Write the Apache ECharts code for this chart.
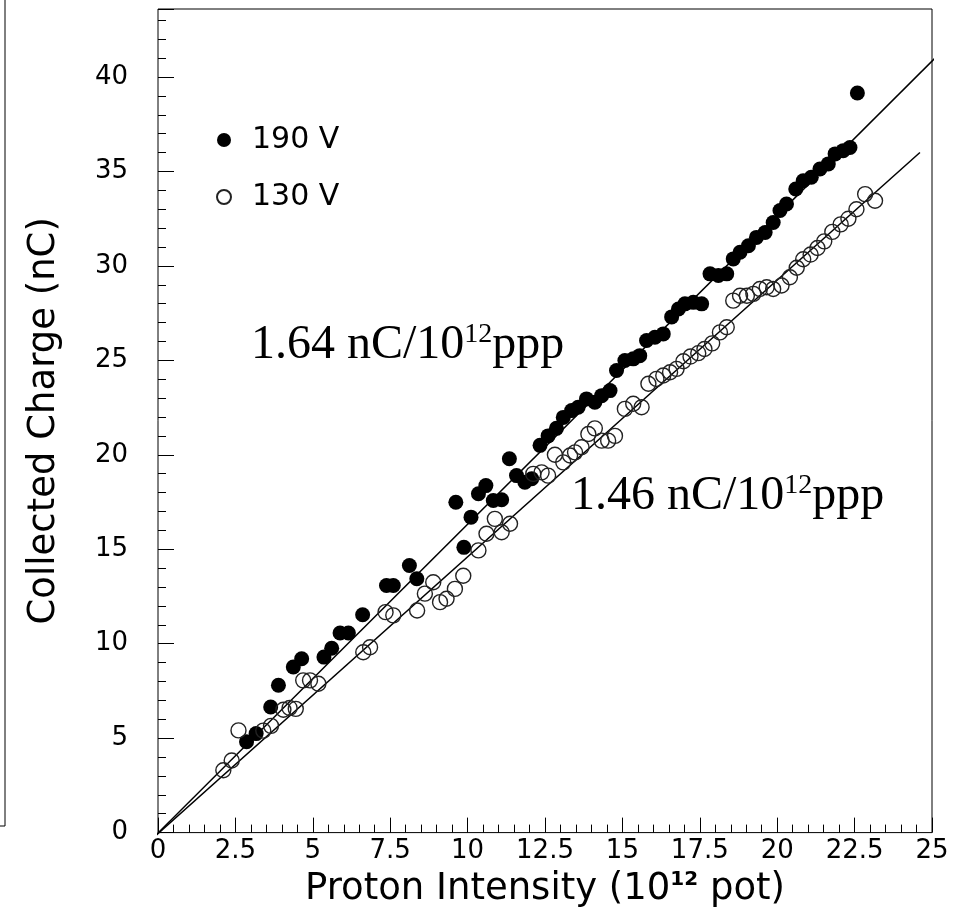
<!DOCTYPE html>
<html>
<head>
<meta charset="utf-8">
<script src="https://cdn.jsdelivr.net/npm/echarts@6/dist/echarts.min.js"></script>
<style>
  html, body { margin: 0; padding: 0; background: #fff; }
  #chart { width: 965px; height: 913px; }
</style>
</head>
<body>
<div id="chart"></div>
<script>
// collected charge vs proton intensity, two bias voltages
var points190 = [
  [2.86, 4.81], [3.17, 5.24], [3.64, 6.65], [3.89, 7.8], [4.37, 8.77], [4.64, 9.2],
  [5.36, 9.29], [5.61, 9.76], [5.88, 10.57], [6.15, 10.57], [6.61, 11.53], [7.38, 13.08],
  [7.6, 13.08], [8.12, 14.14], [8.36, 13.44], [9.62, 17.49], [9.88, 15.1], [10.11, 16.7],
  [10.35, 17.94], [10.59, 18.37], [10.83, 17.58], [11.1, 17.62], [11.35, 19.79], [11.58, 18.9],
  [11.85, 18.55], [12.07, 18.73], [12.34, 20.5], [12.6, 21.0], [12.87, 21.4], [13.09, 21.98],
  [13.36, 22.34], [13.57, 22.52], [13.84, 22.96], [14.11, 22.78], [14.33, 23.13], [14.6, 23.4],
  [14.81, 24.46], [15.08, 24.99], [15.35, 25.08], [15.56, 25.25], [15.78, 26.05], [16.05, 26.22],
  [16.32, 26.4], [16.59, 27.3], [16.81, 27.72], [17.02, 27.99], [17.29, 28.07], [17.56, 27.99],
  [17.83, 29.58], [18.1, 29.49], [18.37, 29.58], [18.58, 30.37], [18.8, 30.72], [19.07, 31.07],
  [19.33, 31.51], [19.61, 31.77], [19.87, 32.3], [20.09, 32.93], [20.3, 33.28], [20.6, 34.07],
  [20.84, 34.51], [21.1, 34.69], [21.38, 35.13], [21.65, 35.4], [21.87, 35.93], [22.13, 36.1],
  [22.35, 36.27], [22.59, 39.15]
];
var points130 = [
  [2.11, 3.3], [2.38, 3.82], [2.6, 5.41], [3.4, 5.4], [3.65, 5.65], [4.05, 6.5],
  [4.25, 6.6], [4.45, 6.55], [4.69, 8.06], [4.91, 8.06], [5.18, 7.88], [6.63, 9.55],
  [6.85, 9.81], [7.35, 11.67], [7.6, 11.5], [8.37, 11.76], [8.62, 12.65], [8.89, 13.25],
  [9.11, 12.2], [9.32, 12.38], [9.59, 12.9], [9.86, 13.6], [10.35, 14.94], [10.61, 15.82],
  [10.88, 16.61], [11.1, 15.9], [11.37, 16.35], [12.12, 18.99], [12.39, 19.07], [12.6, 18.9],
  [12.82, 20.0], [13.09, 19.6], [13.31, 19.96], [13.47, 20.13], [13.68, 20.4], [13.9, 21.1],
  [14.11, 21.4], [14.33, 20.75], [14.54, 20.75], [14.76, 21.0], [15.08, 22.43], [15.35, 22.7],
  [15.62, 22.52], [15.84, 23.76], [16.1, 24.02], [16.32, 24.2], [16.54, 24.37], [16.75, 24.55],
  [16.97, 24.95], [17.2, 25.2], [17.45, 25.38], [17.65, 25.6], [17.9, 25.9], [18.15, 26.48],
  [18.37, 26.75], [18.58, 28.16], [18.8, 28.42], [19.02, 28.42], [19.23, 28.52], [19.44, 28.78],
  [19.66, 28.87], [19.87, 28.78], [20.14, 28.96], [20.41, 29.4], [20.63, 29.9], [20.84, 30.35],
  [21.08, 30.6], [21.3, 30.95], [21.52, 31.3], [21.78, 31.8], [22.05, 32.2], [22.3, 32.5],
  [22.56, 33.0], [22.84, 33.8], [23.16, 33.45]
];
// linear fits, end points
var fit190 = [[-0.2, -0.35], [25.16, 41.1]];
var fit130 = [[-0.2, -0.35], [24.61, 36.0]];

var seriesNames = ['190 V', '130 V'];
var slopeTexts = ['1.64 nC/10', '1.46 nC/10'];

var SANS = '"DejaVu Sans", sans-serif';
var SERIF = '"Liberation Serif", "Times New Roman", serif';

var chart = echarts.init(document.getElementById('chart'));

function slopeLabel(txt, left, top) {
  return {
    type: 'text', left: left, top: top, z: 10,
    style: {
      text: '{a|' + txt + '}{s|12}{a|ppp}',
      rich: {
        a: { fontSize: 48, fontFamily: SERIF, lineHeight: 48, fill: '#000' },
        s: { fontSize: 28, fontFamily: SERIF, lineHeight: 28, verticalAlign: 'top', fill: '#000' }
      }
    }
  };
}

chart.setOption({
  backgroundColor: '#fff',
  animation: false,
  grid: { left: 158, right: 33, top: 9, bottom: 79, show: true, borderColor: '#000', borderWidth: 1, backgroundColor: 'transparent' },
  legend: {
    data: seriesNames,
    orient: 'vertical', left: 211, top: 120,
    itemWidth: 14, itemHeight: 14, itemGap: 27,
    textStyle: { fontSize: 30, fontFamily: SANS, color: '#000', lineHeight: 30, padding: [0, 0, 0, 16] }
  },
  xAxis: {
    type: 'value', min: 0, max: 25, interval: 2.5,
    name: '{a|Proton Intensity (10}{s|12}{a| pot)}',
    nameLocation: 'middle', nameGap: 36,
    nameTextStyle: {
      rich: {
        a: { fontSize: 37, fontFamily: SANS, color: '#000', lineHeight: 40 },
        s: { fontSize: 20, fontFamily: SANS, color: '#000', fontWeight: 'bold', lineHeight: 22, verticalAlign: 'top' }
      }
    },
    axisLine: { show: false },
    axisTick: { show: true, inside: true, length: 15, lineStyle: { color: '#000', width: 1 } },
    minorTick: { show: true, splitNumber: 5, length: 8, lineStyle: { color: '#000', width: 1 } },
    axisLabel: { fontSize: 26, fontFamily: SANS, color: '#000', margin: 6, showMaxLabel: true, showMinLabel: true },
    splitLine: { show: false }
  },
  yAxis: [{
    type: 'value', min: 0, max: 43.6, interval: 1, position: 'left',
    name: 'Collected Charge (nC)', nameLocation: 'middle', nameGap: 95,
    nameTextStyle: { fontSize: 37, fontFamily: SANS, color: '#000' },
    axisLine: { show: false },
    axisTick: { show: true, inside: true, length: 8, lineStyle: { color: '#000', width: 1 } },
    axisLabel: {
      fontSize: 26, fontFamily: SANS, color: '#000', margin: 30,
      formatter: function (v) { return v % 5 === 0 ? String(v) : ''; }
    },
    splitLine: { show: false }
  }, {
    type: 'value', min: 0, max: 43.6, interval: 5, position: 'left',
    axisLine: { show: false },
    axisTick: { show: true, inside: true, length: 16, lineStyle: { color: '#000', width: 1 } },
    axisLabel: { show: false },
    splitLine: { show: false }
  }],
  series: [
    { name: 'fit190', type: 'line', data: fit190, showSymbol: false, symbol: 'none', clip: false,
      lineStyle: { color: '#000', width: 1.5 }, z: 1 },
    { name: 'fit130', type: 'line', data: fit130, showSymbol: false, symbol: 'none', clip: false,
      lineStyle: { color: '#000', width: 1.5 }, z: 1 },
    { name: seriesNames[0], type: 'scatter', data: points190, symbol: 'circle', symbolSize: 15,
      itemStyle: { color: '#000', opacity: 1 }, z: 2 },
    { name: seriesNames[1], type: 'scatter', data: points130, symbol: 'circle', symbolSize: 15,
      itemStyle: { color: 'rgba(0,0,0,0)', borderColor: '#222', borderWidth: 1.4, opacity: 1 }, z: 3 }
  ],
  graphic: [
    slopeLabel(slopeTexts[0], 251, 321),
    slopeLabel(slopeTexts[1], 571, 472),
    // edge of the neighbouring figure
    { type: 'line', shape: { x1: 5, y1: 0, x2: 5, y2: 826 }, style: { stroke: '#000', lineWidth: 1 } },
    { type: 'line', shape: { x1: 0, y1: 826, x2: 5, y2: 826 }, style: { stroke: '#000', lineWidth: 1 } }
  ]
});
</script>
</body>
</html>
